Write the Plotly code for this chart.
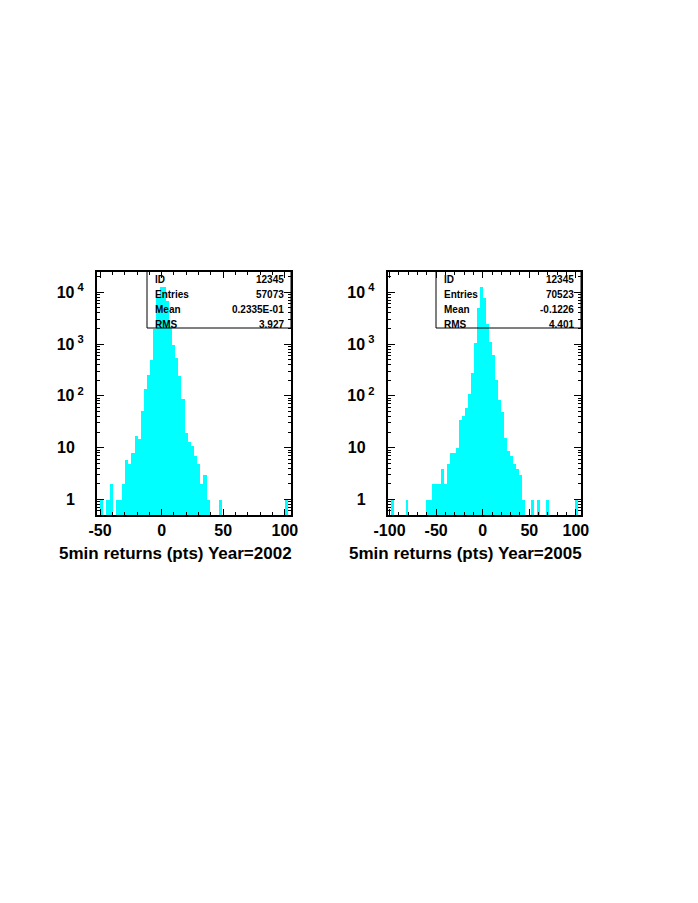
import plotly.graph_objects as go

# ---- 2002 histogram: 62 bins of equal width from -52.5 to 105
lo_2002, hi_2002 = -52.5, 105.0
counts_2002 = [
    0, 1, 0, 1, 2, 0, 1, 1, 2, 6,
    5, 8, 17, 15, 53, 140, 256, 500, 2000, 8000,
    13000, 13000, 7000, 2200, 1000, 540, 250, 90, 20, 13,
    11, 7, 5, 2, 3, 1, 0, 0, 0, 1,
    0, 0, 0, 0, 0, 0, 0, 0, 0, 0,
    0, 0, 0, 0, 0, 0, 0, 0, 0, 0,
    1, 0,
]
stats_2002 = ["12345", "57073", "0.2335E-01", "3.927"]
xticks_2002 = [-50, 0, 50, 100]

# ---- 2005 histogram: 65 bins of width 3.2 from -102.4
lo_2005, hi_2005 = -102.4, 105.6
counts_2005 = [
    0, 1, 0, 0, 0, 0, 1, 0, 0, 0,
    0, 0, 0, 1, 1, 2, 2, 2, 4, 2,
    5, 8, 8, 10, 35, 41, 60, 113, 284, 1050,
    5000, 13000, 8000, 2500, 1130, 630, 205, 84, 50, 16,
    9, 7, 5, 4, 3, 1, 0, 0, 1, 0,
    1, 0, 0, 1, 0, 0, 0, 0, 0, 0,
    0, 0, 0, 1, 0,
]
stats_2005 = ["12345", "70523", "-0.1226", "4.401"]
xticks_2005 = [-100, -50, 0, 50, 100]

stat_names = ["ID", "Entries", "Mean", "RMS"]
ytick_vals = [1, 10, 100, 1000, 10000]
NB = "\u00a0"
ytick_text = ["1" + NB * 2, "10" + NB * 2, "10<sup> 2</sup>", "10<sup> 3</sup>", "10<sup> 4</sup>"]

FONT = "Liberation Sans"
CYAN = "#00FFFF"
W, H = 698, 903
OFF = 8  # page offset of the plot div


def px(x):
    return (x - OFF) / W


def py(y):
    return 1 - (y - OFF) / H


def centers(lo, hi, n):
    w = (hi - lo) / n
    return [lo + w * (i + 0.5) for i in range(n)], w


fig = go.Figure()

panels = [
    (counts_2002, lo_2002, hi_2002, [-52.5, 105], xticks_2002, (97, 291), 147, 2002, stats_2002),
    (counts_2005, lo_2005, hi_2005, [-102, 105.5], xticks_2005, (387.7, 581), 436, 2005, stats_2005),
]

for i, (cnt, lo, hi, xr, xt, (xl, xrt), box_left, year, st) in enumerate(panels):
    sfx = "" if i == 0 else "2"
    dom = [px(xl), px(xrt)]
    xs, w = centers(lo, hi, len(cnt))
    ys = [c if c > 0 else None for c in cnt]
    fig.add_trace(go.Bar(x=xs, y=ys, width=w, xaxis="x" + sfx, yaxis="y" + sfx,
                         marker=dict(color=CYAN, line=dict(width=0)),
                         showlegend=False, hoverinfo="skip"))
    fig.layout["xaxis" + sfx] = dict(
        domain=dom, range=xr, anchor="y" + sfx, automargin=False,
        showline=True, linecolor="black", linewidth=2, mirror="allticks",
        ticks="inside", ticklen=6, tickcolor="black", tickwidth=1,
        tickvals=xt, ticktext=[str(v) for v in xt],
        showgrid=False, zeroline=False,
        tickfont=dict(family=FONT, size=16, color="black", weight="bold"),
        minor=dict(ticks="inside", ticklen=3, dtick=10, tick0=0, tickcolor="black", showgrid=False),
    )
    fig.layout["yaxis" + sfx] = dict(
        domain=[py(515), py(271.5)], type="log", range=[-0.3, 4.4], anchor="x" + sfx,
        automargin=False,
        showline=True, linecolor="black", linewidth=2, mirror="allticks",
        ticks="inside", ticklen=7, tickcolor="black", tickwidth=1,
        tickvals=ytick_vals, ticktext=ytick_text, showgrid=False, zeroline=False,
        ticklabelstandoff=8,
        tickfont=dict(family=FONT, size=16, color="black", weight="bold"),
        minor=dict(ticks="inside", ticklen=3, dtick="D1", tickcolor="black", showgrid=False),
    )
    # stats box
    fig.add_shape(type="rect", xref="paper", yref="paper",
                  x0=px(box_left), x1=dom[1], y0=py(328), y1=py(271.5),
                  line=dict(color="black", width=1), layer="above")
    for r, (nm, val) in enumerate(zip(stat_names, st)):
        yy = py(279.7 + r * 14.8)
        fig.add_annotation(x=px(box_left + 6), y=yy, xref="paper", yref="paper",
                           text=nm, showarrow=False, xanchor="left", yanchor="middle",
                           font=dict(family=FONT, size=10, color="black", weight="bold"))
        fig.add_annotation(x=px(xrt - 5), y=yy, xref="paper", yref="paper",
                           text=val, showarrow=False, xanchor="right", yanchor="middle",
                           font=dict(family=FONT, size=10, color="black", weight="bold"))
    fig.add_annotation(x=px(xrt + 3), y=py(553), xref="paper", yref="paper",
                       text=f"5min returns (pts) Year={year}", showarrow=False,
                       xanchor="right", yanchor="middle",
                       font=dict(family=FONT, size=17, color="black", weight="bold"))

fig.update_layout(width=W, height=H, autosize=False,
                  margin=dict(l=0, r=0, t=0, b=0, pad=0, autoexpand=False),
                  paper_bgcolor="white", plot_bgcolor="white", bargap=0)

fig.write_html("out.html")
